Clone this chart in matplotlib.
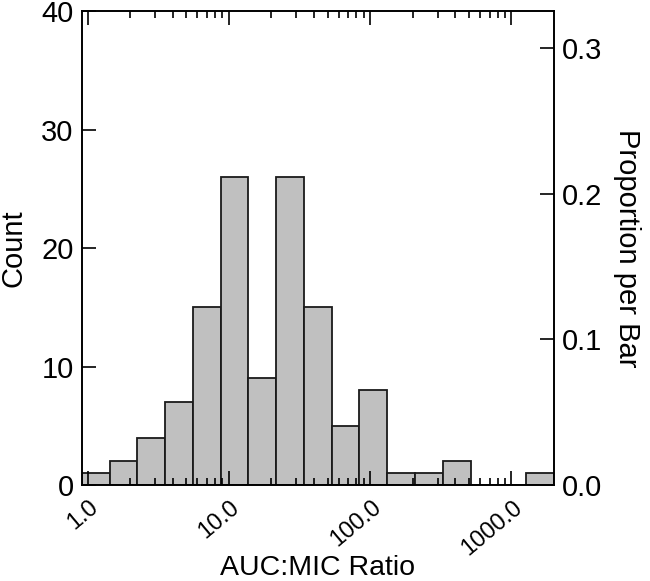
import numpy as np
import matplotlib
matplotlib.use("Agg")
import matplotlib.pyplot as plt
from matplotlib.ticker import LogLocator, FixedLocator, FuncFormatter
import matplotlib.transforms as mtransforms

plt.rcParams['font.family'] = ['Liberation Sans', 'DejaVu Sans']

# conteos por barra (bins iguales en escala log10)
counts = [1, 2, 4, 7, 15, 26, 9, 26, 15, 5, 8, 1, 1, 2, 0, 0, 1]
log_lo, log_hi = -0.04, 3.30
x_ticks = [1.0, 10.0, 100.0, 1000.0]
count_ticks = [0, 10, 20, 30, 40]
prop_ticks = [0.0, 0.1, 0.2, 0.3]

counts = np.array(counts)
n_total = counts.sum()
edges = 10 ** np.linspace(log_lo, log_hi, len(counts) + 1)

fig = plt.figure(figsize=(6.5, 5.81), dpi=100)
ax = fig.add_axes([0.126, 0.165, 0.726, 0.816])

ax.bar(edges[:-1], counts, width=np.diff(edges), align='edge',
       color='#c0c0c0', edgecolor='#1a1a1a', linewidth=1.3, zorder=1)

ax.set_xscale('log')
ax.set_xlim(edges[0], edges[-1])
ax.set_ylim(0, 40)

ax.xaxis.set_major_locator(FixedLocator(x_ticks))
ax.xaxis.set_major_formatter(FuncFormatter(lambda v, p: f'{v:.1f}'))
ax.xaxis.set_minor_locator(LogLocator(base=10, subs=np.arange(2, 10), numticks=20))
ax.yaxis.set_major_locator(FixedLocator(count_ticks))

ax.tick_params(axis='x', which='major', direction='in', length=10, width=1.2,
               top=True, labelsize=17, pad=14)
ax.tick_params(axis='x', which='minor', direction='in', length=5, width=1.2,
               top=True)
ax.tick_params(axis='y', which='major', direction='in', length=10, width=1.2,
               right=False, labelsize=21, pad=6)
ax.tick_params(axis='y', which='minor', left=False, right=False)

for lab in ax.get_xticklabels():
    lab.set_rotation(40)
    lab.set_ha('right')
    lab.set_va('center')
    lab.set_rotation_mode('anchor')
    lab.set_transform(lab.get_transform() +
                      mtransforms.ScaledTranslation(0.08, 0.0, fig.dpi_scale_trans))

for s in ax.spines.values():
    s.set_linewidth(1.2)
    s.set_zorder(3)

ax.set_xlabel('AUC:MIC Ratio', fontsize=20.5)
ax.xaxis.set_label_coords(0.5, -0.175)
ax.xaxis.label.set_va('center')
ax.set_ylabel('Count', fontsize=21, labelpad=10)

# eje derecho: proporción por barra
ax2 = ax.twinx()
ax2.set_ylim(0, 40 / n_total)
ax2.yaxis.set_major_locator(FixedLocator(prop_ticks))
ax2.yaxis.set_major_formatter(FuncFormatter(lambda v, p: f'{v:.1f}'))
ax2.tick_params(axis='y', direction='in', length=10, width=1.2, labelsize=21, pad=6)
ax2.set_ylabel('Proportion per Bar', fontsize=21, rotation=270, labelpad=28)
for s in ax2.spines.values():
    s.set_linewidth(1.2)

fig.savefig('out.png', dpi=100)
